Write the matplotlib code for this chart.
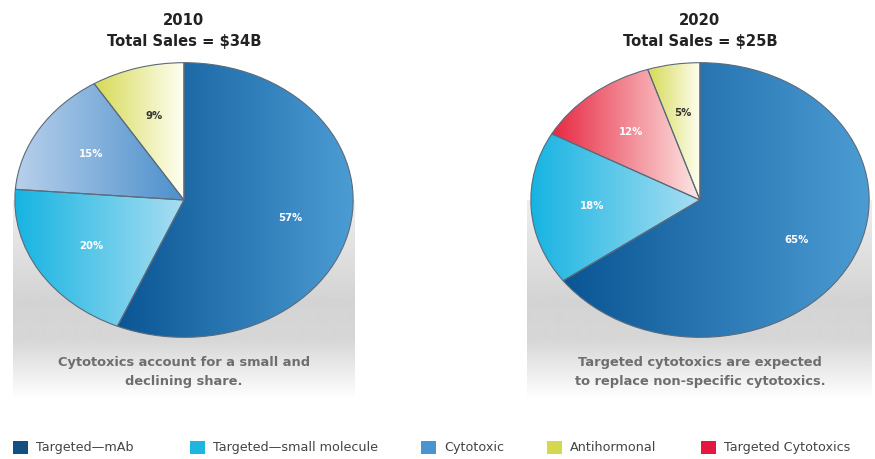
import numpy as np
import matplotlib
matplotlib.use("Agg")
import matplotlib.pyplot as plt
from matplotlib.colors import LinearSegmentedColormap
from matplotlib.patches import Rectangle

# data
categories = ["Targeted\u2014mAb", "Targeted\u2014small molecule", "Cytotoxic",
              "Antihormonal", "Targeted Cytotoxics"]
legend_colors = ["#134f80", "#1eb5e0", "#4a95d0", "#d4d84c", "#e5163f"]

cats_2010 = ["Targeted\u2014mAb", "Targeted\u2014small molecule", "Cytotoxic", "Antihormonal"]
share_2010 = [57, 20, 15, 9]
cats_2020 = ["Targeted\u2014mAb", "Targeted\u2014small molecule", "Targeted Cytotoxics", "Antihormonal"]
share_2020 = [65, 18, 12, 5]

titles = ["2010\nTotal Sales = $34B", "2020\nTotal Sales = $25B"]
captions = ["Cytotoxics account for a small and\ndeclining share.",
            "Targeted cytotoxics are expected\nto replace non-specific cytotoxics."]

# gradient (left, right) colours per category
grad = {
    "Targeted\u2014mAb": ("#0a5594", "#4c9cd4"),
    "Targeted\u2014small molecule": ("#16b4e2", "#aadef2"),
    "Cytotoxic": ("#b8d0ec", "#4d90cb"),
    "Antihormonal": ("#d6da55", "#fffff4"),
    "Targeted Cytotoxics": ("#e82842", "#fde9e6"),
}
label_col = {
    "Antihormonal": "#333333",
}

W, H = 875, 459
fig = plt.figure(figsize=(W / 100, H / 100), dpi=100)

# background axes in pixel coords for the grey panels and the legend
bg = fig.add_axes([0, 0, 1, 1])
bg.axis("off")
ys = np.linspace(0, 1, 200)
shade = np.interp(ys, [0, 0.5, 0.7, 1.0], [0.93, 0.83, 0.84, 1.0])
panel = np.repeat(shade[:, None], 2, axis=1)
for x0, x1 in [(13, 355), (527, 872)]:
    bg.imshow(panel, cmap="gray", vmin=0, vmax=1, extent=(x0, x1, 400, 200),
              aspect="auto", interpolation="bilinear")
bg.set_xlim(0, W)
bg.set_ylim(H, 0)

# legend, laid out by hand like the original
leg_x = [13, 190, 421, 547, 701]
for x, c, lab in zip(leg_x, legend_colors, categories):
    bg.add_patch(Rectangle((x, 441), 15, 13, facecolor=c, edgecolor="none"))
    bg.text(x + 23, 447.5, lab, ha="left", va="center", fontsize=9.2, color="#444444")


def pix_axes(x0, y0, x1, y1):
    return fig.add_axes([x0 / W, 1 - y1 / H, (x1 - x0) / W, (y1 - y0) / H])


def draw_pie(ax, cats, vals):
    wedges, texts = ax.pie(
        vals, startangle=90, counterclock=False,
        labels=[f"{v}%" for v in vals], labeldistance=0.64, radius=1,
        wedgeprops=dict(edgecolor="#5b6b7b", linewidth=0.8),
        textprops=dict(color="white", fontsize=7.3, fontweight="bold"))
    g = np.linspace(0, 1, 256)[None, :]
    for w, c, t in zip(wedges, cats, texts):
        ext = w.get_path().get_extents()
        cmap = LinearSegmentedColormap.from_list(c, grad[c])
        im = ax.imshow(g, cmap=cmap, extent=(ext.x0, ext.x1, -1.01, 1.01),
                       aspect="auto", zorder=w.get_zorder() - 0.1,
                       interpolation="bilinear")
        im.set_clip_path(w)
        w.set_facecolor("none")
        t.set_color(label_col.get(c, "white"))
        t.set_ha("center")
        t.set_va("center")
    ax.set_aspect("auto")
    ax.set_xlim(-1.005, 1.005)
    ax.set_ylim(-1.005, 1.005)
    ax.axis("off")


ax1 = pix_axes(14, 62, 354, 338)
draw_pie(ax1, cats_2010, share_2010)
ax2 = pix_axes(530, 62, 870, 338)
draw_pie(ax2, cats_2020, share_2020)

for cx, t, cap in zip([184, 700], titles, captions):
    fig.text(cx / W, 1 - 31 / H, t, ha="center", va="center", fontsize=10.6,
             fontweight="bold", color="#222222", linespacing=1.45)
    fig.text(cx / W, 1 - 372 / H, cap, ha="center", va="center", fontsize=9.4,
             fontweight="bold", color="#6e6e6e", linespacing=1.6)

fig.savefig("out.png", dpi=100)
